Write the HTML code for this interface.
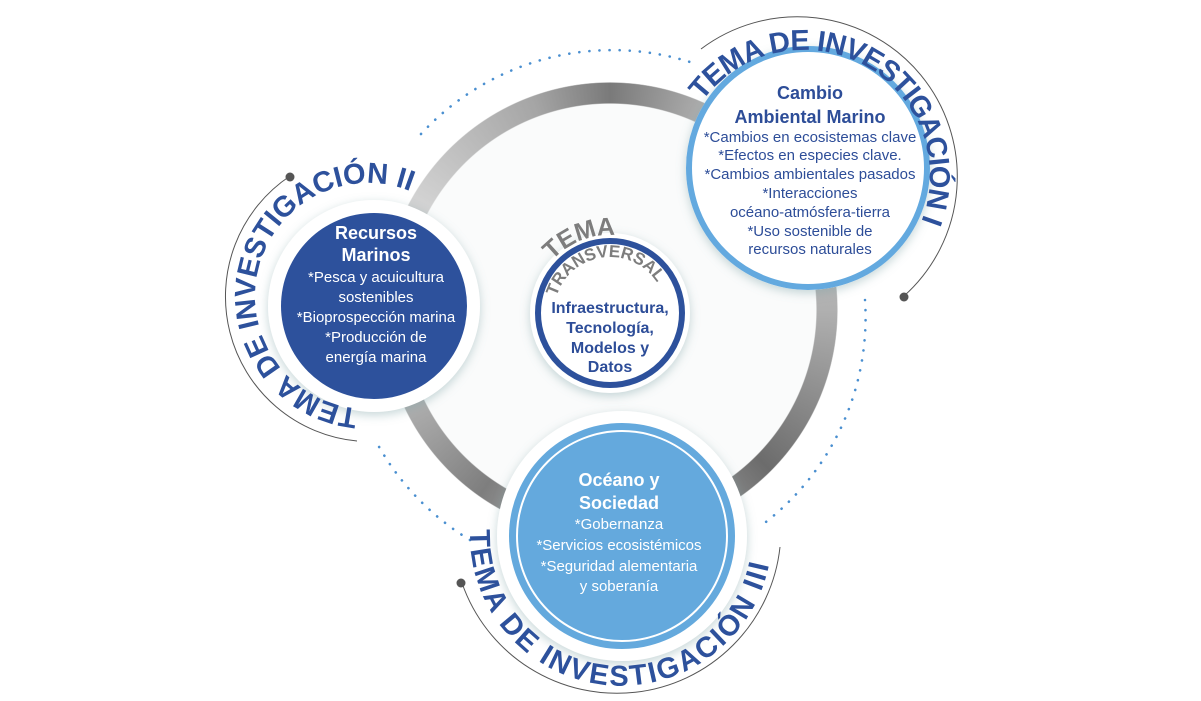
<!DOCTYPE html>
<html><head><meta charset="utf-8"><style>
html,body{margin:0;padding:0;background:#fff;}
body{width:1201px;height:701px;overflow:hidden;position:relative;font-family:"Liberation Sans",sans-serif;}
#ring{position:absolute;left:382px;top:82px;width:456px;height:456px;border-radius:50%;
background:conic-gradient(from 0deg,#7a7a7a 0deg,#cdcdcd 40deg,#b0b0b0 90deg,#6c6c6c 135deg,#a8a8a8 165deg,#c0c0c0 185deg,#7e7e7e 215deg,#b8b8b8 250deg,#d2d2d2 300deg,#a5a5a5 340deg,#7a7a7a 360deg);
-webkit-mask:radial-gradient(circle,transparent 206px,#000 207px,#000 227px,transparent 228px);
mask:radial-gradient(circle,transparent 206px,#000 207px,#000 227px,transparent 228px);}
svg{position:absolute;left:0;top:0;}
</style></head><body>
<svg width="1201" height="701" style="z-index:0">
<circle cx="610" cy="310" r="207" fill="#fafbfb"/>
<g fill="none" stroke="#4a8fd0" stroke-width="2.6" stroke-linecap="round" stroke-dasharray="0.1 10">
<path d="M 421 134 A 260 260 0 0 1 690 62"/>
<path d="M 865 300 A 260 260 0 0 1 762 525"/>
<path d="M 470 540 A 260 260 0 0 1 378 445"/>
</g>
<g fill="none" stroke="#555" stroke-width="1">
<path d="M 701 49 A 160 160 0 0 1 904 296"/>
<path d="M 290 176 A 145 145 0 0 0 357 441"/>
<path d="M 462 583 A 164 164 0 0 0 780 547"/>
</g>
<circle cx="904" cy="297" r="4.5" fill="#555"/>
<circle cx="290" cy="177" r="4.5" fill="#555"/>
<circle cx="461" cy="583" r="4.5" fill="#555"/>
</svg>
<div id="ring"></div>
<svg width="1201" height="701" style="z-index:2">
<defs>
<filter id="sh" x="-30%" y="-30%" width="160%" height="160%">
<feDropShadow dx="0" dy="3" stdDeviation="5" flood-color="#7fa3a6" flood-opacity="0.45"/>
</filter>
</defs>
<circle cx="374" cy="306" r="106" fill="#fff" filter="url(#sh)"/>
<circle cx="374" cy="306" r="93" fill="#2d519c"/>
<circle cx="622" cy="536" r="125" fill="#fff" filter="url(#sh)"/>
<circle cx="622" cy="536" r="113" fill="#64a9dd"/>
<circle cx="622" cy="536" r="105" fill="none" stroke="#fff" stroke-width="2"/>
<circle cx="808" cy="168" r="122" fill="#fff" filter="url(#sh)"/>
<circle cx="808" cy="168" r="119" fill="#fff" stroke="#63a9df" stroke-width="6"/>
<circle cx="610" cy="313" r="80" fill="#fff" filter="url(#sh)"/>
<circle cx="610" cy="313" r="72" fill="#fff" stroke="#2d519c" stroke-width="6"/>

<path id="p1" d="M 699 106 A 126 126 0 0 1 919 227" fill="none"/>
<path id="p2" d="M 368 409 A 113 113 0 1 1 424.5 198.1" fill="none"/>
<path id="p3" d="M 470.8 519.2 A 151 151 0 1 0 772 535" fill="none"/>
<path id="p4" d="M 546.1 268.3 A 78 78 0 0 1 649 245.5" fill="none"/>
<path id="p5" d="M 554.85 303.3 A 56 56 0 0 1 662.6 293.8" fill="none"/>
<g font-family="Liberation Sans, sans-serif" font-weight="bold" fill="#2d519c" font-size="29">
<text><textPath href="#p1" startOffset="6" textLength="362" lengthAdjust="spacing">TEMA DE INVESTIGACIÓN I</textPath></text>
<text><textPath href="#p2" startOffset="9.9" textLength="388" lengthAdjust="spacing">TEMA DE INVESTIGACIÓN II</textPath></text>
<text><textPath href="#p3" startOffset="10.5" textLength="449" lengthAdjust="spacing">TEMA DE INVESTIGACIÓN III</textPath></text>
</g>
<g font-family="Liberation Sans, sans-serif" font-weight="bold" fill="#7d7d7d">
<text font-size="25"><textPath href="#p4" startOffset="10" textLength="70" lengthAdjust="spacing">TEMA</textPath></text>
<text font-size="17"><textPath href="#p5" startOffset="7" textLength="127" lengthAdjust="spacing">TRANSVERSAL</textPath></text>
</g>
<g font-family="Liberation Sans, sans-serif" text-anchor="middle">
<g fill="#2d4d98">
<text x="810" y="99" font-size="18" font-weight="bold">Cambio</text>
<text x="810" y="123" font-size="18" font-weight="bold">Ambiental Marino</text>
<g font-size="15">
<text x="810" y="142">*Cambios en ecosistemas clave</text>
<text x="810" y="160">*Efectos en especies clave.</text>
<text x="810" y="179">*Cambios ambientales pasados</text>
<text x="810" y="198">*Interacciones</text>
<text x="810" y="217">océano-atmósfera-tierra</text>
<text x="810" y="236">*Uso sostenible de</text>
<text x="810" y="254">recursos naturales</text>
</g>
<g font-size="16" font-weight="bold">
<text x="610" y="313">Infraestructura,</text>
<text x="610" y="333">Tecnología,</text>
<text x="610" y="353">Modelos y</text>
<text x="610" y="372">Datos</text>
</g>
</g>
<g fill="#fff">
<text x="376" y="239" font-size="18" font-weight="bold">Recursos</text>
<text x="376" y="261" font-size="18" font-weight="bold">Marinos</text>
<g font-size="15">
<text x="376" y="282">*Pesca y acuicultura</text>
<text x="376" y="302">sostenibles</text>
<text x="376" y="322">*Bioprospección marina</text>
<text x="376" y="342">*Producción de</text>
<text x="376" y="362">energía marina</text>
</g>
<text x="619" y="486" font-size="18" font-weight="bold">Océano y</text>
<text x="619" y="509" font-size="18" font-weight="bold">Sociedad</text>
<g font-size="15">
<text x="619" y="529">*Gobernanza</text>
<text x="619" y="550">*Servicios ecosistémicos</text>
<text x="619" y="571">*Seguridad alementaria</text>
<text x="619" y="591">y soberanía</text>
</g>
</g>
</g>
</svg>
</body></html>
